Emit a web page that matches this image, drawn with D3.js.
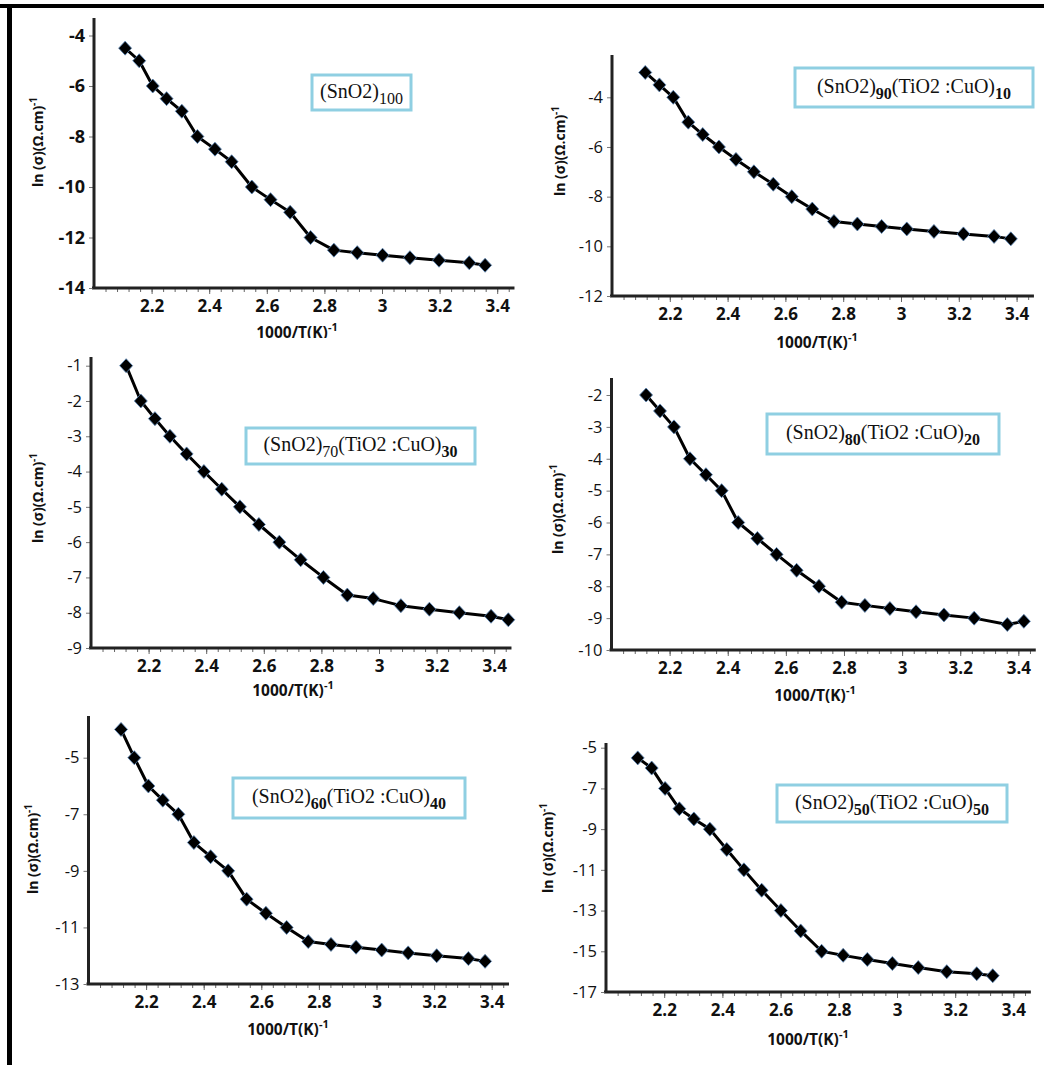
<!DOCTYPE html>
<html>
<head>
<meta charset="utf-8">
<script src="https://cdn.jsdelivr.net/npm/d3@7"></script>
<style>
  body { margin: 0; background: #fff; }
  svg { display: block; }
  .tick text { font-family: "Open Sans", sans-serif; fill: #111; }
</style>
</head>
<body>
<div id="chart"></div>
<script>
// x values: 1000/T (K^-1), y values: ln(sigma)
const x100 = [2.108, 2.157, 2.204, 2.252, 2.305, 2.359, 2.420, 2.478, 2.548, 2.613, 2.681, 2.752, 2.833, 2.914, 3.002, 3.097, 3.198, 3.303, 3.358];
const y100 = [-4.5, -5, -6, -6.5, -7, -8, -8.5, -9, -10, -10.5, -11, -12, -12.5, -12.6, -12.7, -12.8, -12.9, -13, -13.1];

const x90 = [2.115, 2.164, 2.212, 2.264, 2.314, 2.370, 2.429, 2.491, 2.558, 2.622, 2.693, 2.768, 2.849, 2.933, 3.020, 3.114, 3.216, 3.322, 3.380];
const y90 = [-3, -3.5, -4, -5, -5.5, -6, -6.5, -7, -7.5, -8, -8.5, -9, -9.1, -9.2, -9.3, -9.4, -9.5, -9.6, -9.7];

const x70 = [2.122, 2.173, 2.222, 2.274, 2.332, 2.392, 2.454, 2.517, 2.583, 2.654, 2.728, 2.807, 2.890, 2.980, 3.076, 3.175, 3.279, 3.389, 3.449];
const y70 = [-1, -2, -2.5, -3, -3.5, -4, -4.5, -5, -5.5, -6, -6.5, -7, -7.5, -7.6, -7.8, -7.9, -8, -8.1, -8.2];

const x80 = [2.119, 2.167, 2.215, 2.270, 2.325, 2.379, 2.436, 2.502, 2.568, 2.637, 2.714, 2.792, 2.872, 2.958, 3.048, 3.144, 3.248, 3.362, 3.419];
const y80 = [-2, -2.5, -3, -4, -4.5, -5, -6, -6.5, -7, -7.5, -8, -8.5, -8.6, -8.7, -8.8, -8.9, -9, -9.2, -9.1];

const x60 = [2.113, 2.159, 2.208, 2.258, 2.312, 2.366, 2.424, 2.485, 2.549, 2.616, 2.688, 2.763, 2.842, 2.929, 3.018, 3.110, 3.209, 3.319, 3.377];
const y60 = [-4, -5, -6, -6.5, -7, -8, -8.5, -9, -10, -10.5, -11, -11.5, -11.6, -11.7, -11.8, -11.9, -12, -12.1, -12.2];

const x50 = [2.109, 2.157, 2.203, 2.252, 2.302, 2.357, 2.415, 2.474, 2.535, 2.601, 2.669, 2.741, 2.815, 2.898, 2.984, 3.073, 3.171, 3.274, 3.329];
const y50 = [-5.5, -6, -7, -8, -8.5, -9, -10, -11, -12, -13, -14, -15, -15.2, -15.4, -15.6, -15.8, -16, -16.1, -16.2];

// tick labels
const xTickLabels = [2.2, 2.4, 2.6, 2.8, 3, 3.2, 3.4];
const yTicks100 = [-4, -6, -8, -10, -12, -14];
const yTicks90 = [-4, -6, -8, -10, -12];
const yTicks70 = [-1, -2, -3, -4, -5, -6, -7, -8, -9];
const yTicks80 = [-2, -3, -4, -5, -6, -7, -8, -9, -10];
const yTicks60 = [-5, -7, -9, -11, -13];
const yTicks50 = [-5, -7, -9, -11, -13, -15, -17];

// legend labels: [text, subscript] pairs
const label100 = [["(SnO2)", "100"]];
const label90 = [["(SnO2)", "90"], ["(TiO2 :CuO)", "10"]];
const label70 = [["(SnO2)", "70"], ["(TiO2 :CuO)", "30"]];
const label80 = [["(SnO2)", "80"], ["(TiO2 :CuO)", "20"]];
const label60 = [["(SnO2)", "60"], ["(TiO2 :CuO)", "40"]];
const label50 = [["(SnO2)", "50"], ["(TiO2 :CuO)", "50"]];

const width = 1044, height = 1065;

// layout of each panel (pixel positions)
const panels = [
  { xs: x100, ys: y100, yTicks: yTicks100, label: label100, x0: 94, k: 288, yDom: [-14, -4], yRange: [288, 35.5], yTop: 18,
    box: [312, 75, 99, 35], yTitle: [43, 142], xTitle: [297, 338], boldY: true, clipY: 338 },
  { xs: x90, ys: y90, yTicks: yTicks90, label: label90, x0: 612, k: 289, yDom: [-12, -4], yRange: [296, 97.3], yTop: 55,
    box: [795, 68, 238, 39], yTitle: [565, 151], xTitle: [817, 348] },
  { xs: x70, ys: y70, yTicks: yTicks70, label: label70, x0: 91, k: 288, yDom: [-9, -1], yRange: [648, 365.7], yTop: 357,
    box: [246, 428, 229, 36], yTitle: [43, 498], xTitle: [293, 696] },
  { xs: x80, ys: y80, yTicks: yTicks80, label: label80, x0: 611.5, k: 290.6, yDom: [-10, -2], yRange: [650, 395], yTop: 378,
    box: [767, 414, 232, 40], yTitle: [563, 509], xTitle: [815, 701] },
  { xs: x60, ys: y60, yTicks: yTicks60, label: label60, x0: 88.5, k: 288, yDom: [-13, -5], yRange: [984, 757.7], yTop: 716,
    box: [233, 778, 232, 40], yTitle: [38, 849], xTitle: [288, 1035] },
  { xs: x50, ys: y50, yTicks: yTicks50, label: label50, x0: 606, k: 291, yDom: [-17, -5], yRange: [992, 747.7], yTop: 743,
    box: [777, 785, 230, 37], yTitle: [553, 848], xTitle: [808, 1045] }
];

const svg = d3.select('#chart')
  .append('svg')
  .attr('width', width)
  .attr('height', height);

svg.append('rect').attr('width', width).attr('height', height).attr('fill', '#fff');

// frame of the figure: top and left black bars
svg.append('rect').attr('x', 0).attr('y', 4).attr('width', width).attr('height', 4).attr('fill', '#000');
svg.append('rect').attr('x', 7).attr('y', 4).attr('width', 5).attr('height', height - 4).attr('fill', '#000');

const defs = svg.append('defs');
const diamond = 'M0,-7L6.5,0L0,7L-6.5,0Z';
const plain = d => String(d); // keep the hyphen minus of the original

panels.forEach((p, i) => {
  const g = svg.append('g');

  const x = d3.scaleLinear().domain([2, 3.46]).range([p.x0, p.x0 + 1.46 * p.k]);
  const y = d3.scaleLinear().domain(p.yDom).range(p.yRange);
  const yBase = y(p.yDom[0]);

  // minor x ticks every 0.04
  g.append('g')
    .attr('transform', `translate(0,${yBase})`)
    .call(d3.axisBottom(x).tickValues(d3.range(2.04, 3.45, 0.04)).tickSize(4).tickFormat(''))
    .call(a => a.select('.domain').remove())
    .call(a => a.selectAll('line').attr('stroke', '#666').attr('stroke-width', 1));

  // major x ticks + labels
  g.append('g')
    .attr('transform', `translate(0,${yBase})`)
    .call(d3.axisBottom(x).tickValues(xTickLabels).tickSize(6).tickPadding(6).tickFormat(plain))
    .call(a => a.select('.domain').remove())
    .call(a => a.selectAll('line').attr('stroke', '#666').attr('stroke-width', 1))
    .call(a => a.selectAll('text').attr('font-size', 17).attr('font-weight', 'bold'));

  // x axis line
  g.append('line')
    .attr('x1', x(2) - 2).attr('x2', x(3.46))
    .attr('y1', yBase).attr('y2', yBase)
    .attr('stroke', '#222').attr('stroke-width', 3);

  // y axis ticks + labels
  g.append('g')
    .attr('transform', `translate(${x(2)},0)`)
    .call(d3.axisLeft(y).tickValues(p.yTicks).tickSize(5).tickPadding(4).tickFormat(plain))
    .call(a => a.select('.domain').remove())
    .call(a => a.selectAll('line').attr('stroke', '#777').attr('stroke-width', 1))
    .call(a => a.selectAll('text')
      .attr('font-size', p.boldY ? 18 : 16.5)
      .attr('font-weight', p.boldY ? 'bold' : 'normal'));

  // y axis line
  g.append('line')
    .attr('x1', x(2)).attr('x2', x(2))
    .attr('y1', yBase + 1).attr('y2', p.yTop)
    .attr('stroke', '#222').attr('stroke-width', 3);

  // data line
  const pts = p.xs.map((v, j) => ({ x: v, y: p.ys[j] }));
  const line = d3.line().x(d => x(d.x)).y(d => y(d.y));
  g.append('path')
    .datum(pts)
    .attr('fill', 'none')
    .attr('stroke', '#000')
    .attr('stroke-width', 3)
    .attr('stroke-linejoin', 'round')
    .attr('d', line);

  // diamond markers
  g.selectAll('.pt')
    .data(pts)
    .join('path')
    .attr('class', 'pt')
    .attr('transform', d => `translate(${x(d.x)},${y(d.y)})`)
    .attr('d', diamond)
    .attr('fill', '#000')
    .attr('stroke', '#5b86b8')
    .attr('stroke-width', 0.8);

  // legend box
  const [bx, by, bw, bh] = p.box;
  g.append('rect')
    .attr('x', bx).attr('y', by).attr('width', bw).attr('height', bh)
    .attr('fill', '#fff')
    .attr('stroke', '#8fcfe2')
    .attr('stroke-width', 3);

  const lt = g.append('text')
    .attr('x', bx + bw / 2)
    .attr('y', by + bh / 2 + 5)
    .attr('text-anchor', 'middle')
    .attr('font-family', '"Liberation Serif", "Times New Roman", serif')
    .attr('font-size', 20)
    .attr('fill', '#111');
  p.label.forEach(([main, sub], j) => {
    lt.append('tspan').attr('dy', j === 0 ? 0 : -6).text(main);
    lt.append('tspan')
      .attr('dy', 6)
      .attr('font-size', 16)
      .attr('font-weight', sub === '100' || sub === '70' ? 'normal' : 'bold')
      .text(sub);
  });

  // y axis title
  const yt = g.append('text')
    .attr('transform', `translate(${p.yTitle[0]},${p.yTitle[1]}) rotate(-90)`)
    .attr('text-anchor', 'middle')
    .attr('font-family', '"Open Sans", sans-serif')
    .attr('font-weight', 'bold')
    .attr('font-size', 14)
    .attr('fill', '#111');
  yt.append('tspan').text('ln (σ)(Ω.cm)');
  yt.append('tspan').attr('dy', -6).attr('font-size', 10).text('-1');

  // x axis title
  let xtHolder = g;
  if (p.clipY) {
    defs.append('clipPath').attr('id', `clip${i}`)
      .append('rect').attr('x', 0).attr('y', 0).attr('width', width).attr('height', p.clipY);
    xtHolder = g.append('g').attr('clip-path', `url(#clip${i})`);
  }
  const xt = xtHolder.append('text')
    .attr('x', p.xTitle[0])
    .attr('y', p.xTitle[1])
    .attr('text-anchor', 'middle')
    .attr('font-family', '"Open Sans", sans-serif')
    .attr('font-weight', 'bold')
    .attr('font-size', 15.5)
    .attr('fill', '#111');
  xt.append('tspan').text('1000/T(K)');
  xt.append('tspan').attr('dy', -7).attr('font-size', 11).text('-1');
});
</script>
</body>
</html>
